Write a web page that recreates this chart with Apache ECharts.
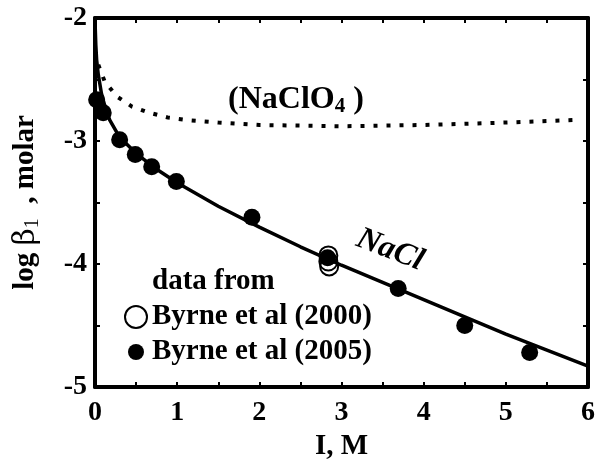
<!DOCTYPE html>
<html>
<head>
<meta charset="utf-8">
<script src="https://cdn.jsdelivr.net/npm/echarts@6/dist/echarts.min.js"></script>
<style>
    html, body { margin: 0; padding: 0; background: #fff; }
    #chart { width: 609px; height: 466px; }
</style>
</head>
<body>
<div id="chart"></div>
<script>
// Fitted curve in NaCl (solid)
var naclFitI = [0, 0.01, 0.02, 0.04, 0.08, 0.13, 0.18, 0.3, 0.5, 0.75, 1.0, 1.5, 2.0, 2.5, 3.0, 3.5, 4.0, 4.5, 5.0, 5.5, 6.0];
var naclFitLogB = [-2.02, -2.22, -2.34, -2.46, -2.62, -2.74, -2.83, -2.97, -3.10, -3.23, -3.34, -3.53, -3.70, -3.86, -4.01, -4.15, -4.29, -4.43, -4.57, -4.70, -4.83];

// Fitted curve in NaClO4 (dotted)
var naclo4FitI = [0.04, 0.12, 0.27, 0.45, 0.66, 0.89, 1.12, 1.5, 2, 3, 4, 5, 5.82];
var naclo4FitLogB = [-2.38, -2.52, -2.64, -2.72, -2.77, -2.81, -2.83, -2.85, -2.87, -2.88, -2.87, -2.85, -2.83];

// Byrne et al (2005), filled
var byrne2005I = [0.02, 0.1, 0.3, 0.49, 0.69, 0.99, 1.91, 2.83, 3.69, 4.5, 5.29];
var byrne2005LogB = [-2.665, -2.77, -2.99, -3.11, -3.21, -3.33, -3.62, -3.95, -4.2, -4.5, -4.72];

// Byrne et al (2000), open
var byrne2000I = [2.84, 2.84, 2.85];
var byrne2000LogB = [-3.93, -3.98, -4.02];

var xTicks = [0, 1, 2, 3, 4, 5, 6];
var yTicks = [-5, -4, -3, -2];

var pairs = function (xs, ys) {
    return xs.map(function (x, i) { return [x, ys[i]]; });
};

var serif = '"Liberation Serif", "Times New Roman", serif';

var chart_element = document.getElementById('chart');
var chart = echarts.init(chart_element);

var tickStyle = { show: true, inside: true, length: 5, lineStyle: { color: '#000', width: 2 } };
var minorStyle = { show: true, splitNumber: 2, length: 5, lineStyle: { color: '#000', width: 2 } };
var lineStyleAxis = { show: true, onZero: false, lineStyle: { color: '#000', width: 4 } };

chart.setOption({
    animation: false,
    backgroundColor: '#fff',
    textStyle: { fontFamily: serif },

    grid: { left: 95, right: 21, top: 18, bottom: 78 },

    xAxis: [{
        type: 'value',
        min: xTicks[0],
        max: xTicks[xTicks.length - 1],
        interval: 1,
        axisLine: lineStyleAxis,
        axisTick: tickStyle,
        minorTick: minorStyle,
        splitLine: { show: false },
        axisLabel: {
            color: '#000', fontSize: 28, fontWeight: 'bold', fontFamily: serif, margin: 12
        },
        name: 'I, M',
        nameLocation: 'middle',
        nameGap: 45,
        nameTextStyle: { color: '#000', fontSize: 29, fontWeight: 'bold', fontFamily: serif, verticalAlign: 'top' }
    }, {
        type: 'value',
        position: 'top',
        min: 0, max: 6, interval: 1,
        axisLine: lineStyleAxis,
        axisTick: tickStyle,
        minorTick: minorStyle,
        splitLine: { show: false },
        axisLabel: { show: false }
    }],

    yAxis: [{
        type: 'value',
        min: yTicks[0],
        max: yTicks[yTicks.length - 1],
        interval: 1,
        axisLine: lineStyleAxis,
        axisTick: tickStyle,
        minorTick: minorStyle,
        splitLine: { show: false },
        axisLabel: {
            color: '#000', fontSize: 28, fontWeight: 'bold', fontFamily: serif, margin: 8,
            formatter: function (v) { return String(v); }
        },
        name: '{t|log }{g|β}{s|1}{t|  , molar}',
        nameLocation: 'middle',
        nameGap: 52,
        nameTextStyle: {
            color: '#000',
            rich: {
                t: { fontSize: 29, fontWeight: 'bold', fontFamily: serif, color: '#000' },
                g: { fontSize: 30, fontFamily: '"DejaVu Serif", serif', color: '#000' },
                s: { fontSize: 20, fontFamily: serif, color: '#000', padding: [14, 0, 0, 0] }
            }
        }
    }, {
        type: 'value',
        position: 'right',
        min: -5, max: -2, interval: 1,
        axisLine: lineStyleAxis,
        axisTick: tickStyle,
        minorTick: minorStyle,
        splitLine: { show: false },
        axisLabel: { show: false }
    }],

    series: [{
        name: 'NaCl',
        type: 'line',
        data: pairs(naclFitI, naclFitLogB),
        smooth: false,
        symbol: 'none',
        lineStyle: { color: '#000', width: 3.5, join: 'round' },
        z: 3
    }, {
        name: 'NaClO4',
        type: 'line',
        data: pairs(naclo4FitI, naclo4FitLogB),
        smooth: false,
        symbol: 'none',
        lineStyle: { color: '#000', width: 4, type: [4, 9], cap: 'butt' },
        z: 3
    }, {
        name: 'Byrne et al (2005)',
        type: 'scatter',
        data: pairs(byrne2005I, byrne2005LogB),
        symbol: 'circle',
        symbolSize: 17,
        itemStyle: { color: '#000', opacity: 1 },
        z: 4
    }, {
        name: 'Byrne et al (2000)',
        type: 'scatter',
        data: pairs(byrne2000I, byrne2000LogB),
        symbol: 'circle',
        symbolSize: 18,
        itemStyle: { color: 'rgba(0,0,0,0)', borderColor: '#000', borderWidth: 2, opacity: 1 },
        z: 5
    }],

    // Curve labels and legend block
    graphic: [{
        type: 'text',
        left: 228,
        top: 84,
        style: {
            text: '{a|(NaClO}{s|4}{a| )}',
            rich: {
                a: { fontSize: 32, fontWeight: 'bold', fontFamily: serif, fill: '#000' },
                s: { fontSize: 21, fontWeight: 'bold', fontFamily: serif, fill: '#000', padding: [14, 0, 0, 0] }
            }
        }
    }, {
        type: 'text',
        x: 390,
        y: 250,
        rotation: -0.37,
        style: {
            text: 'NaCl',
            font: 'italic bold 32px ' + serif,
            fill: '#000',
            align: 'center',
            verticalAlign: 'middle'
        }
    }, {
        type: 'text',
        x: 152,
        y: 282,
        style: {
            text: 'data from',
            font: 'bold 29px ' + serif,
            fill: '#000',
            verticalAlign: 'middle'
        }
    }, {
        type: 'circle',
        shape: { cx: 136, cy: 317, r: 11 },
        style: { fill: '#fff', stroke: '#000', lineWidth: 2 }
    }, {
        type: 'text',
        x: 152,
        y: 317,
        style: {
            text: 'Byrne et al (2000)',
            font: 'bold 29px ' + serif,
            fill: '#000',
            verticalAlign: 'middle'
        }
    }, {
        type: 'circle',
        shape: { cx: 136, cy: 352, r: 8 },
        style: { fill: '#000' }
    }, {
        type: 'text',
        x: 152,
        y: 352,
        style: {
            text: 'Byrne et al (2005)',
            font: 'bold 29px ' + serif,
            fill: '#000',
            verticalAlign: 'middle'
        }
    }]
});

window.addEventListener('resize', function () {
    chart.resize();
});
</script>
</body>
</html>
